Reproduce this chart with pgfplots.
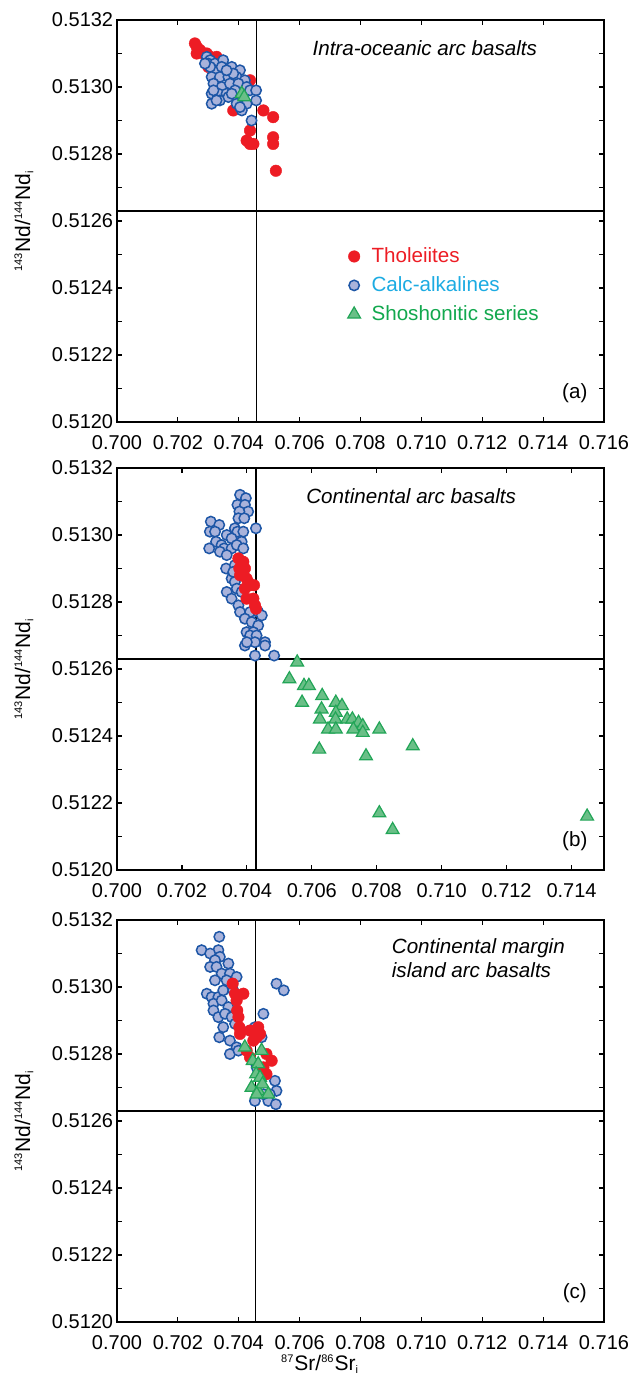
\documentclass[border=0pt]{standalone}
\usepackage{fontspec}
\setmainfont{Liberation Sans}
\usepackage{pgfplots}
\usepackage{pgfplotstable}
\pgfplotsset{compat=1.18}

\definecolor{thol}{HTML}{ED1C24}
\definecolor{calcfill}{HTML}{A9B3DB}
\definecolor{calcedge}{HTML}{1D56A6}
\definecolor{shofill}{HTML}{6ABF87}
\definecolor{shoedge}{HTML}{22A557}
\definecolor{caltext}{HTML}{1CABE2}
\definecolor{shotext}{HTML}{12A84E}

\pgfplotstableread{
x y
0.70256 0.51313
0.70262 0.51310
0.70262 0.51312
0.70273 0.51311
0.70284 0.51310
0.70295 0.51310
0.70306 0.51309
0.70317 0.51308
0.70327 0.51309
0.70338 0.51307
0.70300 0.51306
0.70437 0.51302
0.70431 0.51300
0.70382 0.51293
0.70481 0.51293
0.70513 0.51291
0.70437 0.51287
0.70426 0.51284
0.70437 0.51283
0.70448 0.51283
0.70513 0.51285
0.70513 0.51283
0.70522 0.51275
}\Ta

\pgfplotstableread{
x y
0.70295 0.51309
0.70306 0.51308
0.70300 0.51307
0.70322 0.51307
0.70349 0.51308
0.70355 0.51305
0.70377 0.51306
0.70404 0.51305
0.70322 0.51305
0.70311 0.51303
0.70338 0.51303
0.70366 0.51303
0.70393 0.51303
0.70420 0.51302
0.70317 0.51301
0.70344 0.51300
0.70371 0.51301
0.70399 0.51301
0.70426 0.51300
0.70311 0.51298
0.70333 0.51298
0.70360 0.51298
0.70388 0.51299
0.70415 0.51297
0.70437 0.51299
0.70457 0.51299
0.70457 0.51296
0.70311 0.51295
0.70338 0.51296
0.70366 0.51297
0.70393 0.51295
0.70426 0.51295
0.70410 0.51293
0.70442 0.51290
0.70327 0.51296
0.70306 0.51306
0.70344 0.51306
0.70382 0.51304
0.70289 0.51307
0.70360 0.51305
0.70317 0.51299
0.70377 0.51298
0.70404 0.51294
}\Ca

\pgfplotstableread{
x y
0.70410 0.51298
0.70418 0.51297
}\Sa

\pgfplotstableread{
x y
0.70379 0.51312
0.70397 0.51311
0.70371 0.51309
0.70394 0.51309
0.70404 0.51307
0.70377 0.51307
0.70374 0.51305
0.70392 0.51305
0.70428 0.51302
0.70289 0.51304
0.70315 0.51303
0.70286 0.51301
0.70302 0.51301
0.70338 0.51300
0.70363 0.51302
0.70371 0.51301
0.70389 0.51301
0.70384 0.51298
0.70353 0.51299
0.70305 0.51298
0.70322 0.51297
0.70284 0.51296
0.70330 0.51296
0.70353 0.51296
0.70369 0.51297
0.70389 0.51296
0.70317 0.51295
0.70338 0.51294
0.70336 0.51290
0.70353 0.51287
0.70363 0.51286
0.70338 0.51283
0.70353 0.51281
0.70374 0.51279
0.70379 0.51277
0.70410 0.51277
0.70435 0.51277
0.70446 0.51276
0.70394 0.51275
0.70415 0.51274
0.70435 0.51273
0.70399 0.51271
0.70420 0.51271
0.70410 0.51270
0.70430 0.51270
0.70394 0.51267
0.70425 0.51268
0.70456 0.51268
0.70400 0.51268
0.70456 0.51267
0.70425 0.51264
0.70484 0.51264
0.70363 0.51291
0.70358 0.51289
0.70369 0.51284
0.70384 0.51283
}\Cb

\pgfplotstableread{
x y
0.70374 0.51293
0.70389 0.51292
0.70377 0.51290
0.70394 0.51290
0.70379 0.51288
0.70399 0.51287
0.70410 0.51285
0.70422 0.51285
0.70394 0.51284
0.70399 0.51281
0.70420 0.51281
0.70425 0.51279
0.70428 0.51278
0.70384 0.51292
0.70404 0.51286
}\Tb

\pgfplotstableread{
x y
0.70555 0.51262
0.70531 0.51257
0.70576 0.51255
0.70591 0.51255
0.70570 0.51250
0.70632 0.51252
0.70630 0.51248
0.70674 0.51250
0.70693 0.51249
0.70674 0.51247
0.70673 0.51245
0.70625 0.51245
0.70709 0.51245
0.70725 0.51245
0.70744 0.51244
0.70757 0.51243
0.70728 0.51242
0.70757 0.51241
0.70650 0.51242
0.70674 0.51242
0.70808 0.51242
0.70911 0.51237
0.70623 0.51236
0.70767 0.51234
0.70808 0.51217
0.70849 0.51212
0.71448 0.51216
}\Sb

\pgfplotstableread{
x y
0.70336 0.51315
0.70278 0.51311
0.70333 0.51311
0.70306 0.51310
0.70338 0.51309
0.70322 0.51308
0.70366 0.51307
0.70306 0.51306
0.70327 0.51306
0.70344 0.51304
0.70371 0.51304
0.70393 0.51303
0.70322 0.51302
0.70360 0.51302
0.70295 0.51298
0.70311 0.51297
0.70333 0.51297
0.70349 0.51299
0.70382 0.51299
0.70317 0.51295
0.70344 0.51296
0.70366 0.51294
0.70317 0.51293
0.70333 0.51291
0.70355 0.51292
0.70377 0.51291
0.70349 0.51288
0.70388 0.51289
0.70336 0.51285
0.70371 0.51284
0.70393 0.51282
0.70371 0.51280
0.70399 0.51281
0.70524 0.51301
0.70548 0.51299
0.70481 0.51292
0.70437 0.51287
0.70453 0.51288
0.70475 0.51285
0.70519 0.51272
0.70524 0.51269
0.70502 0.51268
0.70497 0.51266
0.70522 0.51265
0.70453 0.51266
0.70481 0.51268
0.70457 0.51277
0.70459 0.51276
}\Cc

\pgfplotstableread{
x y
0.70380 0.51301
0.70388 0.51298
0.70415 0.51298
0.70393 0.51296
0.70395 0.51293
0.70399 0.51291
0.70402 0.51288
0.70404 0.51286
0.70437 0.51287
0.70464 0.51288
0.70470 0.51286
0.70448 0.51284
0.70426 0.51281
0.70437 0.51279
0.70491 0.51280
0.70508 0.51278
0.70481 0.51276
0.70491 0.51274
0.70459 0.51285
}\Tc

\pgfplotstableread{
x y
0.70420 0.51282
0.70475 0.51281
0.70446 0.51278
0.70464 0.51277
0.70457 0.51274
0.70470 0.51273
0.70442 0.51270
0.70464 0.51269
0.70478 0.51271
0.70497 0.51268
0.70459 0.51268
}\Sc

\pgfplotsset{
  myaxis/.style={
    scale only axis, width=243.5pt, height=201pt,
    xmin=0.700, xmax=0.716, ymin=0.5120, ymax=0.5132,
    xtick={0.700,0.702,0.704,0.706,0.708,0.710,0.712,0.714,0.716},
    ytick={0.5120,0.5122,0.5124,0.5126,0.5128,0.5130,0.5132},
    minor ytick={0.5121,0.5123,0.5125,0.5127,0.5129,0.5131},
    scaled ticks=false,
    tick align=inside, major tick length=2.5pt, minor tick length=2.5pt,
    every tick/.style={black, line width=0.6pt},
    axis line style={line width=0.8pt},
    tick label style={font=\fontsize{10}{12}\selectfont},
    xticklabel={\pgfmathprintnumber[fixed,fixed zerofill,precision=3,assume math mode=true]{\tick}},
    yticklabel={\pgfmathprintnumber[fixed,fixed zerofill,precision=4,assume math mode=true]{\tick}},
    xticklabel style={yshift=-3pt},
    yticklabel style={xshift=1.6pt},
    ylabel={\textsuperscript{\fontsize{5.5}{6}\selectfont 143}Nd/\textsuperscript{\fontsize{5.5}{6}\selectfont 144}Nd\textsubscript{\fontsize{5.5}{6}\selectfont i}},
    ylabel style={at={(axis description cs:-0.191,0.5)}, anchor=center, font=\fontsize{10.5}{12}\selectfont},
    clip=false,
  },
  tho/.style={only marks, mark=*, mark size=2.9pt, color=thol, mark options={fill=thol, draw=thol, line width=0.2pt}},
  cal/.style={only marks, mark=*, mark size=2.6pt, mark options={fill=calcfill, draw=calcedge, line width=0.75pt}},
  sho/.style={only marks, mark=triangle*, mark size=3.7pt, mark options={fill=shofill, draw=shoedge, line width=0.6pt}},
  refl/.style={black, line width=0.55pt, no marks, forget plot},
}

\begin{document}
\begin{tikzpicture}[x=1pt,y=1pt]
\path[use as bounding box] (0,0) rectangle (318.5,-688);

% (a)
\begin{axis}[myaxis, at={(58.5pt,-10pt)}, anchor=north west,
  legend style={draw=none, fill=none, at={(rel axis cs:0.473,0.445)}, anchor=north west,
    font=\fontsize{10.3}{12}\selectfont, row sep=1.5pt, inner sep=0pt},
  legend cell align=left,
  legend image code/.code={\draw[mark repeat=2,mark phase=2] plot coordinates {(0cm,0cm) (0.2cm,0cm) (0.4cm,0cm)};}]
\addplot[tho] table {\Ta};
\addlegendentry{\hspace*{3.5pt}\textcolor{thol}{Tholeiites}}
\addplot[cal] table {\Ca};
\addlegendentry{\hspace*{3.5pt}\textcolor{caltext}{Calc-alkalines}}
\addplot[sho] table {\Sa};
\addlegendentry{\hspace*{3.5pt}\textcolor{shotext}{Shoshonitic series}}
\addplot[refl] coordinates {(0.70457,0.5120) (0.70457,0.5132)};
\addplot[refl] coordinates {(0.700,0.51263) (0.716,0.51263)};
\node[font=\itshape\fontsize{10.3}{12}\selectfont] at (rel axis cs:0.632,0.93) {Intra-oceanic arc basalts};
\node[font=\fontsize{10.3}{12}\selectfont] at (rel axis cs:0.94,0.072) {(a)};
\end{axis}

% (b)
\begin{axis}[myaxis, at={(58.5pt,-234pt)}, anchor=north west, xmax=0.715,
  xtick={0.700,0.702,0.704,0.706,0.708,0.710,0.712,0.714}]
\addplot[cal] table {\Cb};
\addplot[tho] table {\Tb};
\addplot[sho] table {\Sb};
\addplot[refl] coordinates {(0.70428,0.5120) (0.70428,0.5132)};
\addplot[refl] coordinates {(0.700,0.51263) (0.715,0.51263)};
\node[font=\itshape\fontsize{10.3}{12}\selectfont] at (rel axis cs:0.604,0.93) {Continental arc basalts};
\node[font=\fontsize{10.3}{12}\selectfont] at (rel axis cs:0.94,0.072) {(b)};
\end{axis}

% (c)
\begin{axis}[myaxis, at={(58.5pt,-460pt)}, anchor=north west,
  xlabel={\textsuperscript{\fontsize{5.5}{6}\selectfont 87}Sr/\textsuperscript{\fontsize{5.5}{6}\selectfont 86}Sr\textsubscript{\fontsize{5.5}{6}\selectfont i}},
  xlabel style={at={(axis description cs:0.417,0)}, anchor=center, yshift=-21pt, font=\fontsize{10.5}{12}\selectfont}]
\addplot[cal] table {\Cc};
\addplot[tho] table {\Tc};
\addplot[sho] table {\Sc};
\addplot[refl] coordinates {(0.70455,0.5120) (0.70455,0.5132)};
\addplot[refl] coordinates {(0.700,0.51263) (0.716,0.51263)};
\node[font=\itshape\fontsize{10.3}{12}\selectfont, anchor=west, align=left] at (rel axis cs:0.55,0.905) {Continental margin\\island arc basalts};
\node[font=\fontsize{10.3}{12}\selectfont] at (rel axis cs:0.94,0.072) {(c)};
\end{axis}
\end{tikzpicture}
\end{document}
